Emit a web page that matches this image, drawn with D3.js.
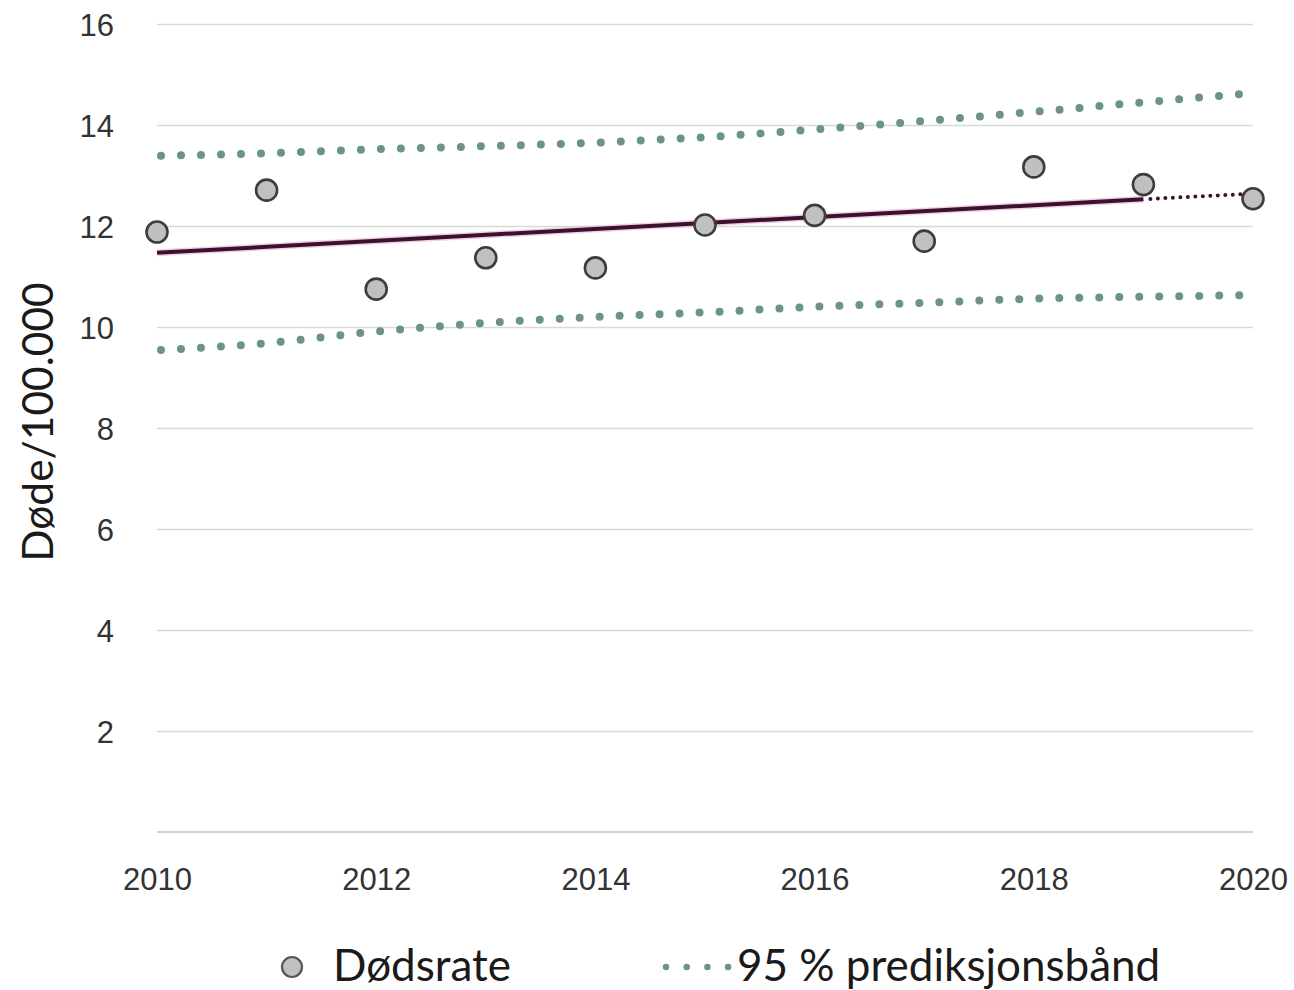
<!DOCTYPE html>
<html>
<head>
<meta charset="utf-8">
<script src="https://cdn.jsdelivr.net/npm/d3@7"></script>
<style>
  html, body { margin: 0; padding: 0; background: #fff; }
  svg { display: block; font-family: Lato, "Open Sans", sans-serif; }
</style>
</head>
<body>
<svg id="chart" width="1294" height="990"></svg>
<script>
// ---- data ----
const years = [2010, 2011, 2012, 2013, 2014, 2015, 2016, 2017, 2018, 2019, 2020];
const rates = [11.88, 12.71, 10.75, 11.37, 11.17, 12.02, 12.21, 11.70, 13.17, 12.82, 12.54];
const upperBand = [13.39, 13.44, 13.52, 13.58, 13.65, 13.76, 13.91, 14.08, 14.26, 14.45, 14.63];
const lowerBand = [9.54, 9.68, 9.91, 10.08, 10.20, 10.29, 10.40, 10.48, 10.56, 10.60, 10.63];
const trendYears = [2010, 2019];
const trendValues = [11.47, 12.53];
const forecastYears = [2019, 2020];
const forecastValues = [12.53, 12.64];
const xTicks = [2010, 2012, 2014, 2016, 2018, 2020];
const yTicks = [2, 4, 6, 8, 10, 12, 14, 16];
const yLabel = "Døde/100.000";
const legendLabels = ["Dødsrate", "95 % prediksjonsbånd"];

// ---- layout ----
const svg = d3.select("#chart");
const x = d3.scaleLinear().domain([2010, 2020]).range([157, 1253]);
const y = d3.scaleLinear().domain([0, 16]).range([832, 24]);

const tickColor = "#333333";
const gridColor = "#d9d9d9";
const bandColor = "#6c928d";

// gridlines
const grid = svg.append("g")
  .attr("transform", `translate(${x.range()[0]},0)`)
  .call(d3.axisLeft(y).tickValues(yTicks).tickSize(-(x.range()[1] - x.range()[0])).tickFormat(""));
grid.select(".domain").remove();
grid.selectAll("line").attr("stroke", gridColor).attr("stroke-width", 1.5);

// baseline
svg.append("line")
  .attr("x1", x.range()[0]).attr("x2", x.range()[1])
  .attr("y1", y(0)).attr("y2", y(0))
  .attr("stroke", "#d0d0d0").attr("stroke-width", 2.2);

// y tick labels
const yAxis = svg.append("g")
  .attr("transform", `translate(114,0)`)
  .call(d3.axisLeft(y).tickValues(yTicks).tickSize(0).tickPadding(0).tickFormat(d3.format("d")));
yAxis.select(".domain").remove();
yAxis.selectAll("text")
  .attr("fill", tickColor).style("font-size", "31px").attr("dy", "0.36em");

// x tick labels
const xAxis = svg.append("g")
  .attr("transform", `translate(0,${y(0)})`)
  .call(d3.axisBottom(x).tickValues(xTicks).tickSize(0).tickPadding(0).tickFormat(d3.format("d")));
xAxis.select(".domain").remove();
xAxis.selectAll("text")
  .attr("fill", tickColor).style("font-size", "31px").attr("dy", "0").attr("y", 58);

// y label
svg.append("text")
  .attr("transform", `translate(53,422) rotate(-90)`)
  .attr("text-anchor", "middle")
  .attr("fill", "#1a1a1a")
  .style("font-size", "42.5px")
  .text(yLabel);

// prediction bands
const bandLine = d3.line().x((d, i) => x(years[i])).y(d => y(d)).curve(d3.curveMonotoneX);
[upperBand, lowerBand].forEach(band => {
  svg.append("path")
    .attr("d", bandLine(band))
    .attr("fill", "none")
    .attr("stroke", bandColor)
    .attr("stroke-width", 8)
    .attr("stroke-linecap", "round")
    .attr("stroke-dasharray", "0 20")
    .attr("stroke-dashoffset", -4);
});

// trend line (with soft pink halo)
const trendPts = trendYears.map((yr, i) => [x(yr), y(trendValues[i])]);
svg.append("path")
  .attr("d", d3.line()(trendPts))
  .attr("stroke", "#e9a8cf").attr("stroke-opacity", 0.55).attr("stroke-width", 7).attr("fill", "none");
svg.append("path")
  .attr("d", d3.line()(trendPts))
  .attr("stroke", "#3a1230").attr("stroke-width", 4).attr("fill", "none");

// forecast dotted
const fcPts = forecastYears.map((yr, i) => [x(yr), y(forecastValues[i])]);
svg.append("path")
  .attr("d", d3.line()(fcPts))
  .attr("stroke", "#3a1230").attr("stroke-width", 4).attr("fill", "none")
  .attr("stroke-linecap", "round").attr("stroke-dasharray", "0 7.5")
  .attr("stroke-dashoffset", -7);

// points
svg.append("g").selectAll("circle")
  .data(rates)
  .join("circle")
  .attr("cx", (d, i) => x(years[i]))
  .attr("cy", d => y(d))
  .attr("r", 10.5)
  .attr("fill", "#c0c0c0")
  .attr("stroke", "#3d3d3d")
  .attr("stroke-width", 2.6);

// legend
const lg = svg.append("g");
lg.append("circle")
  .attr("cx", 292).attr("cy", 967).attr("r", 10)
  .attr("fill", "#c0c0c0").attr("stroke", "#555").attr("stroke-width", 2.2);
lg.append("text")
  .attr("x", 333).attr("y", 981)
  .attr("fill", "#1a1a1a").style("font-size", "44px")
  .text(legendLabels[0]);
lg.append("line")
  .attr("x1", 666).attr("x2", 730).attr("y1", 967).attr("y2", 967)
  .attr("stroke", bandColor).attr("stroke-width", 6.5)
  .attr("stroke-linecap", "round").attr("stroke-dasharray", "0 20.7");
lg.append("text")
  .attr("x", 737).attr("y", 981)
  .attr("fill", "#1a1a1a").style("font-size", "44px")
  .text(legendLabels[1]);
</script>
</body>
</html>
